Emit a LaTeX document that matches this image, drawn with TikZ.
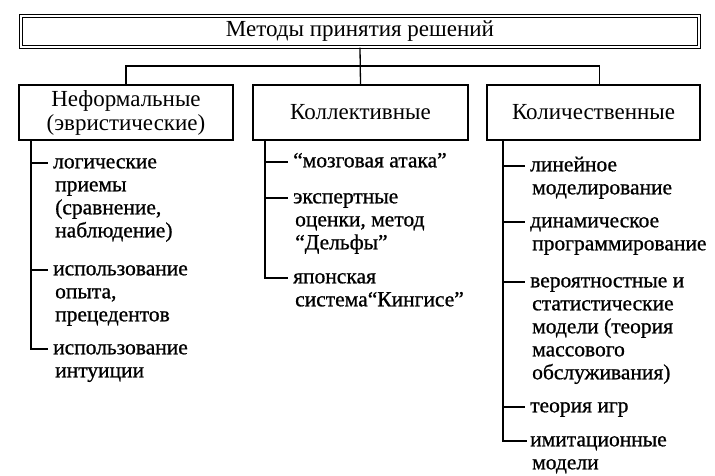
\documentclass[tikz,border=0pt]{standalone}
\usepackage{fontspec}
\setmainfont{Liberation Serif}
\newfontfamily\listfont[FakeBold=0.8]{Liberation Serif}
\begin{document}
\begin{tikzpicture}[x=1pt,y=-1pt,
  every node/.style={inner sep=0pt},
  box/.style={draw,line width=1.3pt,minimum height=55pt,align=center,font=\fontsize{23}{24}\selectfont},
  topbox/.style={draw,line width=1.1pt,double,double distance=1.9pt,minimum width=678pt,minimum height=31pt,font=\fontsize{23}{24}\selectfont},
  itm/.style={anchor=north west,align=left,font=\listfont\fontsize{21.5}{23}\selectfont},
  conn/.style={line width=1.3pt},
  tick/.style={line width=1.1pt}]
\useasboundingbox (0,0) rectangle (715,475);
\node[topbox] (top) at (360,31.5) {Методы принятия решений};
\node[box,minimum width=214pt] (b1) at (126,112.5) {Неформальные\\(эвристические)};
\node[box,minimum width=215pt] (b2) at (360.5,112.5) {Коллективные};
\node[box,minimum width=213pt] (b3) at (593.5,112.5) {Количественные};
\coordinate (bar) at (360,66);
\coordinate (d3) at ([xshift=6pt]b3.north);
\draw[conn] (top.south) -- (b2.north);
\draw[conn] (b1.north) |- (bar) -| (d3);
% stems
\coordinate (s1) at (31,140);
\coordinate (s2) at (265,140);
\coordinate (s3) at (503,140);
% column 1
\node[itm] (a1) at (53,152) {\strut логические\\\hspace*{2pt}приемы\\\hspace*{2pt}(сравнение,\\\hspace*{2pt}наблюдение)};
\node[itm] (a2) at (53,259) {\strut использование\\\hspace*{2pt}опыта,\\\hspace*{2pt}прецедентов};
\node[itm] (a3) at (53,338) {\strut использование\\\hspace*{2pt}интуиции};
% column 2
\node[itm] (c1) at (293,151) {\strut “мозговая атака”};
\node[itm] (c2) at (293,187) {\strut экспертные\\\hspace*{2pt}оценки, метод\\\hspace*{2pt}“Дельфы”};
\node[itm] (c3) at (293,267) {\strut японская\\\hspace*{2pt}система“Кингисе”};
% column 3
\node[itm] (q1) at (530,155) {\strut линейное\\\hspace*{2pt}моделирование};
\node[itm] (q2) at (530,211) {\strut динамическое\\\hspace*{2pt}программирование};
\node[itm] (q3) at (530,271) {\strut вероятностные и\\\hspace*{2pt}статистические\\\hspace*{2pt}модели (теория\\\hspace*{2pt}массового\\\hspace*{2pt}обслуживания)};
\node[itm] (q4) at (530,396) {\strut теория игр};
\node[itm] (q5) at (530,430) {\strut имитационные\\\hspace*{2pt}модели};
% connectors
\foreach \n/\s in {a1/s1,a2/s1,c1/s2,c2/s2,q1/s3,q2/s3,q3/s3,q4/s3}{
  \draw[tick] ([yshift=-11pt]\n.north west -| \s) -- ([xshift=-5pt,yshift=-11pt]\n.north west);
}
\draw[conn] (s1) |- ([xshift=-5pt,yshift=-11pt]a3.north west);
\draw[conn] (s2) |- ([xshift=-5pt,yshift=-11pt]c3.north west);
\draw[conn] (s3) |- ([xshift=-3pt,yshift=-11pt]q5.north west);
\end{tikzpicture}
\end{document}
